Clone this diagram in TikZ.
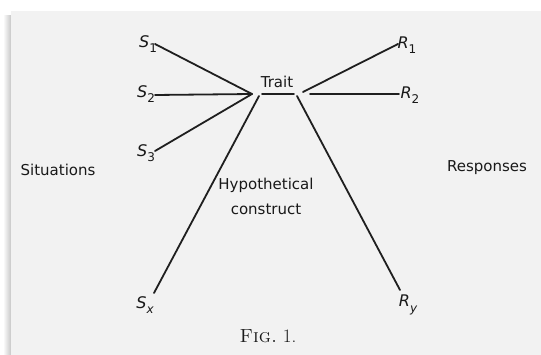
\documentclass[tikz,border=0pt]{standalone}
\usepackage{fontspec}
\setsansfont{DejaVu Sans}
\newfontfamily\labfont{DejaVu Sans}
\newcommand{\vsub}[1]{\raisebox{-0.35em}{\fontsize{12}{12}\selectfont #1}}
\begin{document}
\begin{tikzpicture}[x=1pt,y=-1pt,
  lab/.style={font=\labfont\fontsize{15}{18}\selectfont, text=black!90, inner sep=0pt},
  var/.style={font=\labfont\itshape\fontsize{16}{18}\selectfont, text=black!90, inner sep=0pt},
  conn/.style={line width=1.8pt, draw=black!88, line cap=round}]
\useasboundingbox (0,0) rectangle (541,355);
\fill[white] (0,0) rectangle (541,355);
\shade[left color=white, right color=black!22] (3,16) rectangle (11,355);
\fill[black!5] (11,11) rectangle (541,355);
% labels
\node[var] (s1) at (148,44) {S\vsub{\upshape 1}};
\node[var] (s2) at (146,94) {S\vsub{\upshape 2}};
\node[var] (s3) at (146,153) {S\vsub{\upshape 3}};
\node[var] (sx) at (145,305) {S\vsub{x}};
\node[var] (r1) at (407,45) {R\vsub{\upshape 1}};
\node[var] (r2) at (410,95) {R\vsub{\upshape 2}};
\node[var] (ry) at (408,305) {R\vsub{y}};
\node[lab] (trait) at (277,82) {Trait};
\node[lab] (sit) at (58,170) {Situations};
\node[lab] (resp) at (487,168) {Responses};
\node[lab] (hyp) at (266,185) {Hypothetical};
\node[lab] (cons) at (266,209) {construct};
\node[font=\rmfamily\fontsize{19}{21}\selectfont, inner sep=0pt, text=black!90] (fig) at (268,336) {\textsc{Fig.}\ 1.};
% connector ends
\coordinate (a1) at (155,44);
\coordinate (a2) at (155,95);
\coordinate (a3) at (155,151);
\coordinate (ax) at (154,293);
\coordinate (hl) at (252,94);
\coordinate (hls) at (259,96);
\coordinate (ul1) at (262,94);
\coordinate (ul2) at (294,94);
\coordinate (hr1) at (303,92);
\coordinate (hr2) at (310,94);
\coordinate (hry) at (297,96);
\coordinate (b1) at (398,44);
\coordinate (b2) at (399,94);
\coordinate (by) at (400,290);
\draw[conn] (a1) -- (hl);
\draw[conn] (a2) -- (hl);
\draw[conn] (a3) -- (hl);
\draw[conn] (ax) -- (hls);
\draw[conn] (ul1) -- (ul2);
\draw[conn] (hr1) -- (b1);
\draw[conn] (hr2) -- (b2);
\draw[conn] (hry) -- (by);
\end{tikzpicture}
\end{document}
